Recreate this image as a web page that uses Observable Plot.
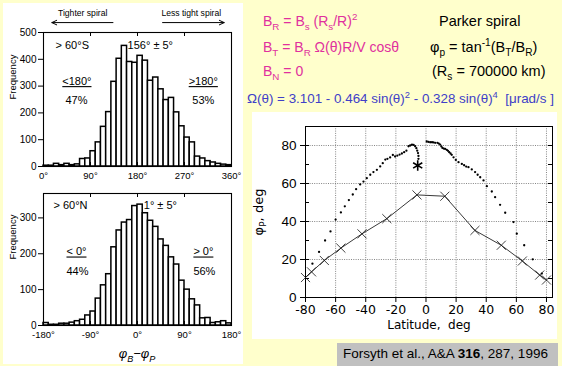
<!DOCTYPE html>
<html>
<head>
<meta charset="utf-8">
<script src="https://cdn.jsdelivr.net/npm/d3@7"></script>
<script src="https://cdn.jsdelivr.net/npm/@observablehq/plot@0.6"></script>
<style>
  html, body { margin: 0; padding: 0; }
  body { width: 562px; height: 366px; overflow: hidden; position: relative; background: #ffffcc; font-family: "Liberation Sans", Arial, sans-serif; }
  .abs { position: absolute; }
  #leftPanel { left: 3px; top: 3px; width: 240px; height: 361px; background: #ffffff; }
  #rightPanel { left: 252px; top: 112px; width: 305px; height: 227px; background: #ffffff; }
  #caption { left: 337px; top: 343px; width: 221px; height: 23px; background: #c0c0c0; font-size: 13.5px; line-height: 22px; padding-left: 6px; box-sizing: border-box; color: #000; white-space: nowrap; }
  .eq { font-size: 14px; white-space: nowrap; line-height: 1; }
  .rc { font-size: 14.5px; }
  .mag { color: #e0309e; }
  .blu { color: #4040c8; font-size: 13.4px; }
  .eq sub, .eq sup { font-size: 70%; line-height: 0; }
  #phiLabel { left: 100px; top: 346px; width: 74px; text-align: center; font-size: 13px; font-style: italic; }
  #phiLabel sub { font-size: 70%; line-height: 0; }
</style>
</head>
<body>
<div id="leftPanel" class="abs"></div>
<div id="rightPanel" class="abs"></div>
<div id="histS" class="abs" style="left:0;top:0;width:245px"></div>
<div id="histN" class="abs" style="left:0;top:185px;width:245px"></div>
<div id="phiLabel" class="abs">φ<sub>B</sub>−φ<sub>P</sub></div>
<div id="lat" class="abs" style="left:252px;top:112px;width:305px"></div>

<div class="abs eq mag" style="left:263px;top:14px">B<sub>R</sub> = B<sub>s</sub> (R<sub>s</sub>/R)<sup>2</sup></div>
<div class="abs eq mag" style="left:263px;top:40px">B<sub>T</sub> = B<sub>R</sub> Ω(θ)R/V cosθ</div>
<div class="abs eq mag" style="left:263px;top:64px">B<sub>N</sub> = 0</div>
<div class="abs eq rc" style="left:439px;top:14px">Parker spiral</div>
<div class="abs eq rc" style="left:430px;top:40px">φ<sub>p</sub> = tan<sup>-1</sup>(B<sub>T</sub>/B<sub>R</sub>)</div>
<div class="abs eq rc" style="left:432px;top:64px">(R<sub>s</sub> = 700000 km)</div>
<div class="abs eq blu" style="left:247px;top:92px">Ω(θ) = 3.101 - 0.464 sin(θ)<sup>2</sup> - 0.328 sin(θ)<sup>4</sup> &nbsp;[μrad/s ]</div>
<div id="caption" class="abs">Forsyth et al., A&amp;A <b>316</b>, 287, 1996</div>

<script>
// Frequency of φB − φP in 10° bins, south of 60°S (0°–360°)
const southCounts = [3, 3, 10, 5, 10, 5, 8, 28, 30, 57, 90, 148, 203, 316, 402, 450, 390, 387,
                     413, 395, 320, 332, 288, 248, 256, 202, 150, 108, 90, 37, 30, 20, 15, 10, 7, 5];
// Frequency of φB − φP in 10° bins, north of 60°N (−180°–180°)
const northCounts = [7, 2, 2, 5, 5, 8, 12, 16, 28, 39, 75, 112, 143, 218, 265, 287, 294, 333,
                     337, 313, 292, 275, 240, 222, 190, 170, 125, 100, 73, 56, 20, 21, 7, 9, 12, 6];
const binWidth = 10;
const southTicks = [0, 90, 180, 270, 360];
const northTicks = [-180, -90, 0, 90, 180];
const southFreqTicks = [0, 100, 200, 300, 400, 500];
const northFreqTicks = [0, 100, 200, 300];

// Parker spiral angle vs latitude: model curve (×) and observed points
const modelLat = [-80, -76, -67.5, -56.5, -42.5, -26, -6, 12.5, 32.5, 50, 64, 75.5, 80];
const modelPhi = [10.5, 13.5, 19.5, 26, 33.5, 41.5, 54, 53.3, 35.3, 27.5, 19.2, 11.8, 9.2];
const obsLat = [-75.4, -71, -67, -63.4, -60, -56.5, -53.9, -51.2, -48.6, -46.4, -43.7, -41.5, -39.3,
  -37, -34.9, -32.6, -30.4, -28.7, -27, -25.6, -23.8, -22, -20.5, -19, -17.5, -16, -14.5, -13,
  -11.6, -10.5, -9.3, -8.2, -7.2, -6.4, -5.8, -5.3, -5, -5,
  0.5, 1.6, 2.8, 4, 5, 6.1, 7.6, 8.5, 9.4, 10.2, 10.9, 11.8, 12.7, 13.8, 14.6, 15.4, 16.3, 17.1,
  18.3, 19.8, 21.6, 23.8, 25.3, 26.7, 28.2, 30.4, 32.6, 34.3, 36, 38.2, 40.4, 43.7, 45.9, 49.2,
  52.6, 58.1, 60.3, 65.2, 70.9, 76.9];
const obsPhi = [17.8, 24, 30, 34.8, 41, 44.8, 48, 51.3, 54.2, 57, 59.5, 61, 62.8,
  64.6, 66, 67.2, 69, 70.7, 72.6, 73, 73.7, 75, 74.2, 74.7, 75.2, 75.8, 76.5, 77.3,
  79.6, 80, 80.4, 80.3, 79.6, 78.6, 77.3, 76, 74.5, 73,
  82.1, 81.9, 81.7, 81.7, 81.6, 81.4, 81.4, 81, 80.5, 79.5, 78.7, 78.4, 78.2, 77.7, 77.2, 76.5, 75.8, 75.1,
  73.8, 72.4, 71.2, 70.3, 69.6, 68.9, 68.6, 67.4, 66, 64.6, 63.3, 61.6, 58.6, 55.8, 52.8, 48.8,
  44.6, 39.7, 33.6, 27.5, 20.1, 12.6];
const starLat = [-5.5];
const starPhi = [69.5];
const latTicks = [-80, -60, -40, -20, 0, 20, 40, 60, 80];
const phiTicks = [0, 20, 40, 60, 80];
const phiMinor = [10, 30, 50, 70];

const histFont = "Liberation Sans, Arial, sans-serif";

function bins(counts, start) {
  return counts.map((c, i) => ({x1: start + i * binWidth, x2: start + (i + 1) * binWidth, count: c}));
}

function histogram({counts, start, domain, xTicks, yMax, yTicks, height, marginTop, marginBottom, notes, extra = []}) {
  const frameH = height - marginTop - marginBottom;
  const inner = xTicks.slice(1, -1);
  return Plot.plot({
    width: 245, height, marginLeft: 43, marginRight: 14, marginTop, marginBottom,
    style: {background: "transparent", fontFamily: histFont, fontSize: "10px", color: "#000", overflow: "visible"},
    x: {domain},
    y: {domain: [0, yMax]},
    marks: [
      Plot.rectY(bins(counts, start), {x1: "x1", x2: "x2", y: "count", fill: "white", stroke: "black", strokeWidth: 1.5}),
      Plot.frame({stroke: "black", strokeWidth: 1.1}),
      Plot.tickX(inner, {x: d => d, insetTop: frameH - 4, stroke: "black"}),
      Plot.tickX(inner, {x: d => d, insetBottom: frameH - 4, stroke: "black"}),
      Plot.axisX({ticks: xTicks, tickFormat: d => `${d}°`, tickSize: 0, tickPadding: 6, label: null, fontSize: 9.5}),
      Plot.axisY({ticks: yTicks, tickFormat: d => `${d}`, tickSize: 5, tickPadding: 2, label: null, fontSize: 10}),
      Plot.text(["Frequency"], {frameAnchor: "left", rotate: -90, dx: -31, fontSize: 9.5}),
      Plot.text(notes, {x: "x", y: "y", text: "text", textAnchor: "start", fontSize: 11}),
      ...extra
    ]
  });
}

// annotations placed in each histogram's own data units
const southNotes = [
  {x: 23, y: 452, text: "> 60°S"},
  {x: 161, y: 452, text: "156° ± 5°"},
  {x: 36, y: 317, text: "<180°", underline: true},
  {x: 42, y: 245, text: "47%"},
  {x: 278, y: 317, text: ">180°", underline: true},
  {x: 285, y: 245, text: "53%"}
];
const spiralLabels = [
  {x: 75, y: 571, text: "Tighter spiral"},
  {x: 283, y: 571, text: "Less tight spiral"}
];
const spiralArrows = [
  {x1: 133, x2: 16, y: 537},
  {x1: 228, x2: 346, y: 537}
];
const northNotes = [
  {x: -161, y: 335, text: "> 60°N"},
  {x: 12, y: 335, text: "1° ± 5°"},
  {x: -136, y: 205, text: "< 0°", underline: true},
  {x: -136, y: 152, text: "44%"},
  {x: 107, y: 205, text: "> 0°", underline: true},
  {x: 107, y: 152, text: "56%"}
];

function underline(svg, notes) {
  const marked = new Set(notes.filter(n => n.underline).map(n => n.text));
  d3.select(svg).selectAll("text").filter(function () { return marked.has(this.textContent); })
    .style("text-decoration", "underline");
}

const south = histogram({
  counts: southCounts, start: 0, domain: [0, 360], xTicks: southTicks, yMax: 500, yTicks: southFreqTicks,
  height: 190, marginTop: 32, marginBottom: 24, notes: southNotes,
  extra: [
    Plot.text(spiralLabels, {x: "x", y: "y", text: "text", fontSize: 8.6}),
    Plot.arrow(spiralArrows, {x1: "x1", x2: "x2", y1: "y", y2: "y", headLength: 8, headAngle: 50, strokeWidth: 1, stroke: "black"})
  ]
});
underline(south, southNotes);
document.getElementById("histS").append(south);

const north = histogram({
  counts: northCounts, start: -180, domain: [-180, 180], xTicks: northTicks, yMax: 368, yTicks: northFreqTicks,
  height: 180, marginTop: 8, marginBottom: 40, notes: northNotes
});
underline(north, northNotes);
document.getElementById("histN").append(north);

// Parker spiral angle vs heliographic latitude
const model = modelLat.map((x, i) => ({x, y: modelPhi[i]}));
const obs = obsLat.map((x, i) => ({x, y: obsPhi[i]}));
const star = starLat.map((x, i) => ({x, y: starPhi[i]}));
const frameW = 305 - 53 - 5;
const latPlot = Plot.plot({
  width: 305, height: 227, marginLeft: 53, marginRight: 5, marginTop: 14, marginBottom: 42,
  style: {background: "transparent", fontFamily: "DejaVu Sans, Verdana, sans-serif", fontSize: "12px", color: "#000", overflow: "visible"},
  x: {domain: [-80, 84]},
  y: {domain: [0, 90]},
  marks: [
    Plot.gridX(latTicks.slice(1), {stroke: "#666", strokeOpacity: 1, strokeWidth: 0.8, strokeDasharray: "1,1.3"}),
    Plot.gridY(phiTicks.slice(1), {stroke: "#666", strokeOpacity: 1, strokeWidth: 0.8, strokeDasharray: "1,1.3"}),
    Plot.frame({stroke: "black", strokeWidth: 1}),
    Plot.tickY(phiTicks.concat(phiMinor), {y: d => d, insetRight: frameW - 4, stroke: "black"}),
    Plot.tickY(phiTicks.concat(phiMinor), {y: d => d, insetLeft: frameW - 4, stroke: "black"}),
    Plot.axisX({ticks: latTicks, tickFormat: d => `${d}`, tickSize: 5, tickPadding: 3, label: null, fontSize: 12.5}),
    Plot.axisY({ticks: phiTicks, tickFormat: d => `${d}`, tickSize: 5, tickPadding: 4, label: null, fontSize: 13.5, fontFamily: "Liberation Sans, Arial, sans-serif"}),
    Plot.line(model, {x: "x", y: "y", stroke: "#222", strokeWidth: 0.9}),
    Plot.dot(model, {x: "x", y: "y", symbol: "times", r: 4.2, stroke: "#111", strokeWidth: 0.8}),
    Plot.dot(obs, {x: "x", y: "y", r: 1.15, fill: "black", stroke: null}),
    Plot.dot(star, {x: "x", y: "y", symbol: "asterisk", r: 5, stroke: "black", strokeWidth: 1.6}),
    Plot.text(["Latitude,  deg"], {frameAnchor: "bottom", dy: 31, fontSize: 12})
  ]
});
// y label with a subscripted φ
const yl = d3.select(latPlot).append("text")
  .attr("transform", "translate(11,100) rotate(-90)")
  .attr("text-anchor", "middle")
  .attr("font-size", 13)
  .attr("fill", "black");
yl.append("tspan").text("φ");
yl.append("tspan").attr("font-size", 9).attr("dy", 3).text("P");
yl.append("tspan").attr("dy", -3).text(", deg");
document.getElementById("lat").append(latPlot);
</script>
</body>
</html>
